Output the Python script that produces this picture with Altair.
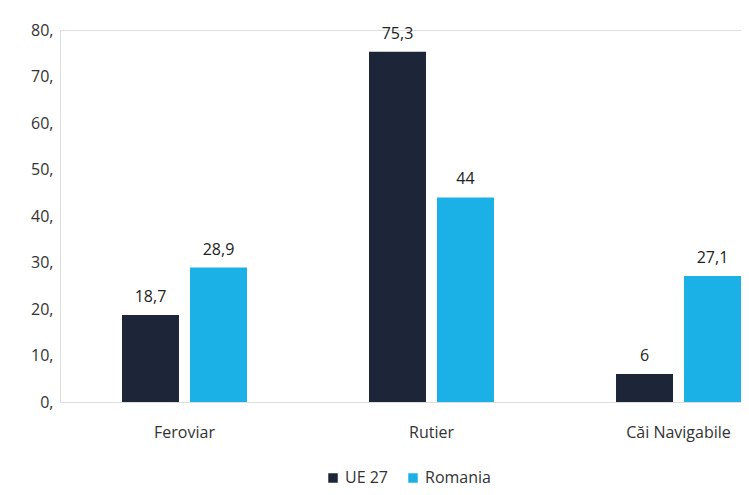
import altair as alt
import pandas as pd

categories = ["Feroviar", "Rutier", "Căi Navigabile"]
series = ["UE 27", "Romania"]
ue27 = [18.7, 75.3, 6]
romania = [28.9, 44, 27.1]
y_ticks = [0, 10, 20, 30, 40, 50, 60, 70, 80]
colors = ["#1d2538", "#1cb1e6"]

rows = []
for c, a, b in zip(categories, ue27, romania):
    for s, v in zip(series, [a, b]):
        rows.append({"cat": c, "series": s, "value": v,
                     "label": f"{v:g}".replace(".", ",")})
df = pd.DataFrame(rows)

FONT = "Open Sans"

x = alt.X("cat:N", sort=categories, title=None,
          scale=alt.Scale(paddingInner=0.494, paddingOuter=0.1255, align=1),
          axis=alt.Axis(labelAngle=0, domain=False, ticks=False, labelPadding=22,
                        labelFontSize=16, labelColor="#333333", labelFont=FONT))
xo = alt.XOffset("series:N", sort=series,
                 scale=alt.Scale(paddingInner=0.162, paddingOuter=0))
y = alt.Y("value:Q", title=None,
          scale=alt.Scale(domain=[0, 80], nice=False),
          axis=alt.Axis(values=y_ticks, grid=False, domain=False, ticks=False,
                        labelPadding=7, labelExpr="datum.label + ','",
                        labelFontSize=16, labelColor="#333333", labelFont=FONT))

bars = alt.Chart(df).mark_bar().encode(
    x=x, xOffset=xo, y=y,
    color=alt.Color("series:N", sort=series,
                    scale=alt.Scale(domain=series, range=colors),
                    legend=alt.Legend(orient="none", legendX=265, legendY=440,
                                      title=None, direction="horizontal",
                                      symbolType="square", symbolSize=90,
                                      labelFontSize=16, labelColor="#333333",
                                      labelFont=FONT, columnPadding=16,
                                      symbolStrokeWidth=0)),
)

labels = alt.Chart(df).mark_text(baseline="bottom", dy=-10, fontSize=16,
                                  color="#222222", font=FONT).encode(
    x=alt.X("cat:N", sort=categories), xOffset=alt.XOffset("series:N", sort=series),
    y="value:Q", text="label:N")

chart = alt.layer(bars, labels).properties(
    width=681, height=372,
    autosize=alt.AutoSizeParams(type="none"),
    padding={"left": 52, "top": 22, "right": 0, "bottom": 85},
).configure_view(stroke=None).configure(background="white")

chart.save("out.html", embed_options={"renderer": "svg", "actions": False})
